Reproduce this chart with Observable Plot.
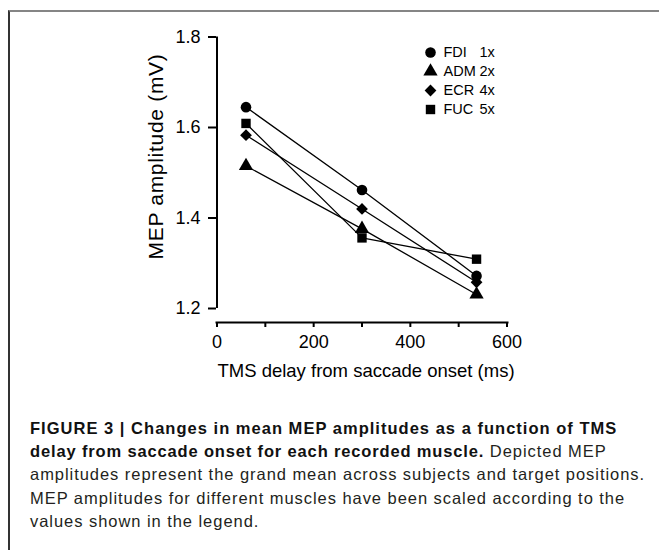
<!DOCTYPE html>
<html>
<head>
<meta charset="utf-8">
<script src="https://cdn.jsdelivr.net/npm/d3@7"></script>
<script src="https://cdn.jsdelivr.net/npm/@observablehq/plot@0.6"></script>
<style>
  html, body { margin: 0; padding: 0; background: #fff; }
  #page { position: relative; width: 659px; height: 550px; overflow: hidden; background: #fff; }
  #chart { position: absolute; left: 0; top: 0; }
  #legend { position: absolute; left: 420px; top: 30px; }
  #border { position: absolute; left: 8px; top: 10px; right: -4px; bottom: -4px;
            border-top: 2px solid #858585; border-left: 2px solid #333; pointer-events: none; }
  #caption { position: absolute; left: 30px; top: 416.8px; white-space: nowrap;
             font-family: "Liberation Sans", Arial, Helvetica, sans-serif; font-size: 16.5px;
             line-height: 23.3px; letter-spacing: 0.95px; color: #231f20; }
  #caption b { font-weight: bold; color: #111; letter-spacing: 0.85px; }
  #caption b.first { letter-spacing: 1.02px; }
</style>
</head>
<body>
<div id="page">
  <div id="chart"></div>
  <div id="legend"></div>
  <div id="caption"></div>
  <div id="border"></div>
</div>
<script>
// ---- data ----
const muscles = ["FDI", "ADM", "ECR", "FUC"];
const factors = ["1x", "2x", "4x", "5x"];
const symbols = ["circle", "triangle", "diamond2", "square"];
const delays = [60, 300, 537];
const fdi = [1.645, 1.462, 1.272];
const adm = [1.515, 1.376, 1.231];
const ecr = [1.583, 1.420, 1.258];
const fuc = [1.609, 1.356, 1.309];
const xTicks = [0, 100, 200, 300, 400, 500, 600];
const xTickLabels = [0, 200, 400, 600];
const yTicks = [1.2, 1.4, 1.6, 1.8];
const xLabel = "TMS delay from saccade onset (ms)";
const yLabel = "MEP amplitude (mV)";

const series = [fdi, adm, ecr, fuc];
const data = muscles.flatMap((m, i) => delays.map((d, j) => ({muscle: m, delay: d, amp: series[i][j]})));

const font = "'Liberation Sans', Arial, Helvetica, sans-serif";

const chart = Plot.plot({
  width: 659,
  height: 390,
  marginLeft: 216,
  marginRight: 152,
  marginTop: 20,
  marginBottom: 68,
  x: {domain: [0, 600], range: [216.5, 506.5]},
  y: {domain: [1.2, 1.8], range: [308, 36.5]},
  symbol: {domain: muscles, range: symbols},
  style: {fontFamily: font, color: "black", background: "transparent", overflow: "visible"},
  marks: [
    Plot.frame({anchor: "bottom", stroke: "black", strokeWidth: 2}),
    Plot.ruleX([xTicks[0]], {y1: yTicks[0], y2: yTicks[yTicks.length - 1], stroke: "black", strokeWidth: 2}),
    Plot.axisY({ticks: yTicks, tickSize: 8, tickPadding: 8, tickFormat: d3.format(".1f"),
                fontSize: 18, label: null, strokeWidth: 2, fill: "black"}),
    Plot.axisX({ticks: xTicks, tickSize: 5, tickPadding: 8,
                tickFormat: d => xTickLabels.includes(d) ? String(d) : "",
                fontSize: 18, label: null, strokeWidth: 2, fill: "black"}),
    Plot.text([xLabel], {text: d => d, frameAnchor: "bottom", dy: 54, dx: 4, fontSize: 18.5, fill: "black"}),
    Plot.text([yLabel], {text: d => d, frameAnchor: "left", textAnchor: "middle", rotate: -90,
                         dx: -60, dy: -15, fontSize: 21, fill: "black"}),
    Plot.line(data, {x: "delay", y: "amp", z: "muscle", stroke: "black", strokeWidth: 1.3}),
    Plot.dot(data, {x: "delay", y: "amp", symbol: "muscle", fill: "black", stroke: "none", r: 5.3})
  ]
});
d3.select(chart).selectAll("text").filter(function() { return this.textContent === yLabel; })
  .style("letter-spacing", "0.7px");
document.getElementById("chart").appendChild(chart);

const legend = Plot.plot({
  width: 110,
  height: 100,
  margin: 0,
  y: {domain: muscles, type: "point", padding: 0, range: [21.7, 79], axis: null},
  symbol: {domain: muscles, range: symbols},
  style: {fontFamily: font, color: "black", background: "transparent", overflow: "visible"},
  marks: [
    Plot.dot(muscles, {y: d => d, symbol: d => d, fill: "black", stroke: "none", r: 5.3, frameAnchor: "left", dx: 10}),
    Plot.text(muscles, {y: d => d, text: d => d, frameAnchor: "left", dx: 23, textAnchor: "start", fontSize: 14.5, fill: "black"}),
    Plot.text(factors, {y: (d, i) => muscles[i], text: d => d, frameAnchor: "left", dx: 59, textAnchor: "start", fontSize: 14.5, fill: "black"})
  ]
});
document.getElementById("legend").appendChild(legend);

document.getElementById("caption").innerHTML =
  "<b class='first'>FIGURE 3 | Changes in mean MEP amplitudes as a function of TMS</b><br>" +
  "<b>delay from saccade onset for each recorded muscle.</b> Depicted MEP<br>" +
  "amplitudes represent the grand mean across subjects and target positions.<br>" +
  "MEP amplitudes for different muscles have been scaled according to the<br>" +
  "values shown in the legend.";
</script>
</body>
</html>
